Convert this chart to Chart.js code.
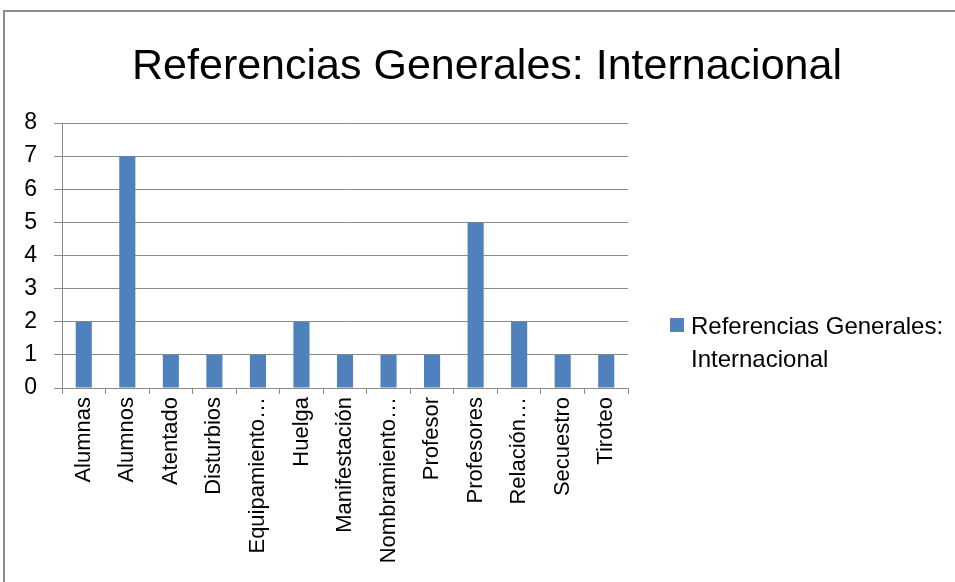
<!DOCTYPE html>
<html>
<head>
  <script src="https://cdn.jsdelivr.net/npm/chart.js@4/dist/chart.umd.min.js"></script>
  <style>
    body { margin: 0; background: #fff; }
    #box { width: 955px; height: 582px; }
  </style>
</head>
<body>
  <div id="box">
    <canvas id="grafico" width="955" height="582"></canvas>
  </div>
  <script>
// datos
const titulo = 'Referencias Generales: Internacional';
const serie = 'Referencias Generales: Internacional';
const categorias = ['Alumnas', 'Alumnos', 'Atentado', 'Disturbios', 'Equipamiento…', 'Huelga',
  'Manifestación', 'Nombramiento…', 'Profesor', 'Profesores', 'Relación…', 'Secuestro', 'Tiroteo'];
const valores = [2, 7, 1, 1, 1, 2, 1, 1, 1, 5, 2, 1, 1];
const ticksY = [0, 1, 2, 3, 4, 5, 6, 7, 8];

const azul = '#4F81BD';
const gris = '#8a8a8a';
const fuente = 'Liberation Sans, Arial, sans-serif';

// marco gris, titulo centrado en todo el lienzo y leyenda en dos lineas
const marco = {
  id: 'marco',
  beforeDraw(chart) {
    const ctx = chart.ctx;
    ctx.save();
    ctx.fillStyle = '#fff';
    ctx.fillRect(0, 0, chart.width, chart.height);
    ctx.strokeStyle = '#8c8c8c';
    ctx.lineWidth = 2;
    ctx.beginPath();
    ctx.moveTo(4, chart.height);
    ctx.lineTo(4, 11);
    ctx.lineTo(chart.width, 11);
    ctx.stroke();
    ctx.restore();
  },
  afterDraw(chart) {
    const ctx = chart.ctx;
    const ds = chart.data.datasets[0];
    ctx.save();
    ctx.fillStyle = '#000';
    ctx.font = '43px ' + fuente;
    ctx.textAlign = 'center';
    ctx.textBaseline = 'alphabetic';
    ctx.fillText(titulo, 487, 79);

    const lineas = ds.label.replace(': ', ':\n').split('\n');
    ctx.textAlign = 'left';
    ctx.fillStyle = ds.backgroundColor;
    ctx.fillRect(670, 318, 14, 14);
    ctx.fillStyle = '#000';
    ctx.font = '24px ' + fuente;
    lineas.forEach((t, i) => ctx.fillText(t, 691, 334 + i * 33));
    ctx.restore();
  }
};

new Chart(document.getElementById('grafico'), {
  type: 'bar',
  data: {
    labels: categorias,
    datasets: [{
      label: serie,
      data: valores,
      backgroundColor: azul,
      categoryPercentage: 1,
      barPercentage: 0.37
    }]
  },
  options: {
    responsive: false,
    animation: false,
    layout: { padding: { left: 0, right: 327, top: 123, bottom: 0 } },
    plugins: {
      legend: { display: false },
      tooltip: { enabled: false },
      title: { display: false }
    },
    scales: {
      x: {
        grid: { drawOnChartArea: false, color: gris, tickLength: 6, offset: true },
        border: { color: gris, width: 1 },
        ticks: {
          color: '#000',
          font: { family: fuente, size: 22 },
          minRotation: 90,
          maxRotation: 90,
          autoSkip: false,
          padding: 3
        },
        afterFit(s) { s.height = 194; }
      },
      y: {
        min: 0,
        max: 8,
        afterBuildTicks(s) { s.ticks = ticksY.map(v => ({ value: v })); },
        grid: { color: gris, tickLength: 8 },
        border: { color: gris, width: 1 },
        ticks: {
          color: '#000',
          font: { family: fuente, size: 23 },
          padding: 17
        },
        afterFit(s) { s.width = 62; }
      }
    }
  },
  plugins: [marco]
});
  </script>
</body>
</html>
